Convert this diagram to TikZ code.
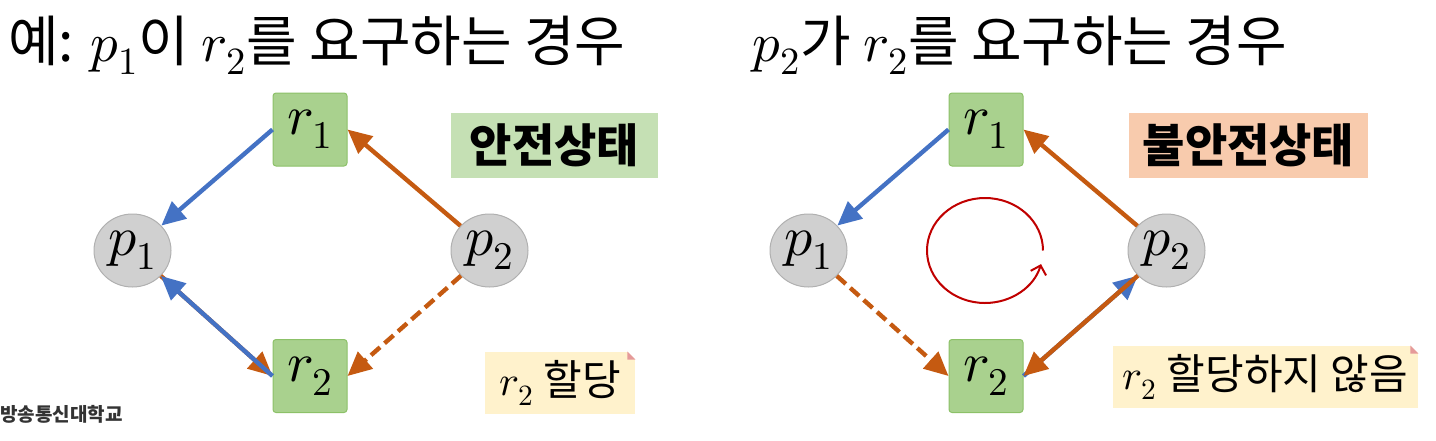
\documentclass[tikz,border=0pt]{standalone}
\usepackage{fontspec}
\usepackage{unicode-math}
\setmainfont{Noto Sans CJK KR}
\setmathfont{Latin Modern Math}
\usetikzlibrary{arrows.meta,shapes.geometric}
\definecolor{asgblue}{HTML}{4472C4}
\definecolor{reqorange}{HTML}{C55A11}
\definecolor{resfill}{HTML}{A9D18E}
\definecolor{resline}{HTML}{8CC168}
\definecolor{procfill}{HTML}{D0D0D0}
\definecolor{procline}{HTML}{B0B0B0}
\definecolor{safefill}{HTML}{C5E0B4}
\definecolor{unsafefill}{HTML}{F8CBAD}
\definecolor{notefill}{HTML}{FFF2CC}
\definecolor{foldpink}{HTML}{E59A9A}
\definecolor{cyclered}{HTML}{C00000}
\begin{document}
\begin{tikzpicture}[x=0.5pt,y=-0.5pt,
	res/.style={rectangle,rounded corners=1.5pt,fill=resfill,draw=resline,line width=0.5pt,
		minimum width=37pt,minimum height=36.5pt,inner sep=0pt,font=\fontsize{28}{32}\selectfont},
	proc/.style={ellipse,fill=procfill,draw=procline,line width=0.5pt,
		minimum width=38.5pt,minimum height=36.5pt,inner sep=0pt,font=\fontsize{28}{32}\selectfont},
	asg/.style={draw=asgblue,line width=2.2pt,-{Triangle[length=12pt,width=11pt]}},
	req/.style={draw=reqorange,line width=2.2pt,-{Triangle[length=12pt,width=11pt]}},
	state/.style={minimum height=32.5pt,inner sep=0pt,font=\bfseries\fontsize{23}{27}\selectfont},
	note/.style={fill=notefill,minimum height=31pt,inner sep=0pt,font=\fontsize{21}{25}\selectfont},
	title/.style={anchor=base west,inner sep=0pt,font=\fontsize{27.5}{32}\selectfont}]
	\useasboundingbox (0,0) rectangle (1436,440);
	
	% Titles
	\node[title] (titleL) at (8,61) {예: $p_1$이 $r_2$를 요구하는 경우};
	\node[title] (titleR) at (752,61) {$p_2$가 $r_2$를 요구하는 경우};
	
	% Left graph
	\node[res] (r1L) at (310,129.5) {$r_1$};
	\node[res] (r2L) at (310,376) {$r_2$};
	\node[proc] (p1L) at (132.5,250.5) {$p_1$};
	\node[proc] (p2L) at (489.5,250.5) {$p_2$};
	
	% Right graph
	\node[res] (r1R) at (986,129.5) {$r_1$};
	\node[res] (r2R) at (986,376) {$r_2$};
	\node[proc] (p1R) at (808.5,250.5) {$p_1$};
	\node[proc] (p2R) at (1166.5,250.5) {$p_2$};
	
	% States and notes
	\node[state,fill=safefill,minimum width=103.5pt] (safe) at (554.5,145.5) {안전상태};
	\node[state,fill=unsafefill,minimum width=119.5pt] (unsafe) at (1248.5,145.5) {불안전상태};
	\node[note,minimum width=75pt] (allocL) at (560,383) {$r_2$ 할당};
	\node[note,minimum width=152.5pt] (allocR) at (1265.5,377) {$r_2$ 할당하지 않음};
	\foreach \n in {allocL,allocR}{
		\fill[white] ([xshift=-4pt]\n.north east) -- (\n.north east) -- ([yshift=-4pt]\n.north east) -- cycle;
		\fill[foldpink] ([xshift=-4pt]\n.north east) -- ([yshift=-4pt]\n.north east) -- ([xshift=-4pt,yshift=-4pt]\n.north east) -- cycle;
	}
	
	% Edges, left
	\draw[asg] (r1L.west) -- (p1L);
	\draw[req] (p2L) -- (r1L.east);
	\draw[req] (p1L) -- (r2L.west);
	\draw[asg] (r2L.west) -- (p1L);
	\draw[req,dashed,dash pattern=on 6pt off 3pt] (p2L) -- (r2L.east);
	
	% Edges, right
	\draw[asg] (r1R.west) -- (p1R);
	\draw[req] (p2R) -- (r1R.east);
	\draw[req,dashed,dash pattern=on 6pt off 3pt] (p1R) -- (r2R.west);
	\draw[asg] (r2R.east) -- (p2R);
	\draw[req] (p2R) -- (r2R.east);
	
	% Cycle
	\coordinate (cyc) at (985,250.5);
	\draw[cyclered,line width=1pt,-{Straight Barb[length=4pt,width=8pt]}]
	([xshift=29pt]cyc) arc[start angle=0,end angle=-345,x radius=58,y radius=52.5];
	
	% Logo
	\node[anchor=west,inner sep=0pt,text=black!80,font=\bfseries\fontsize{9.5}{11}\selectfont] (logo) at (0,414) {방송통신대학교};
\end{tikzpicture}
\end{document}
